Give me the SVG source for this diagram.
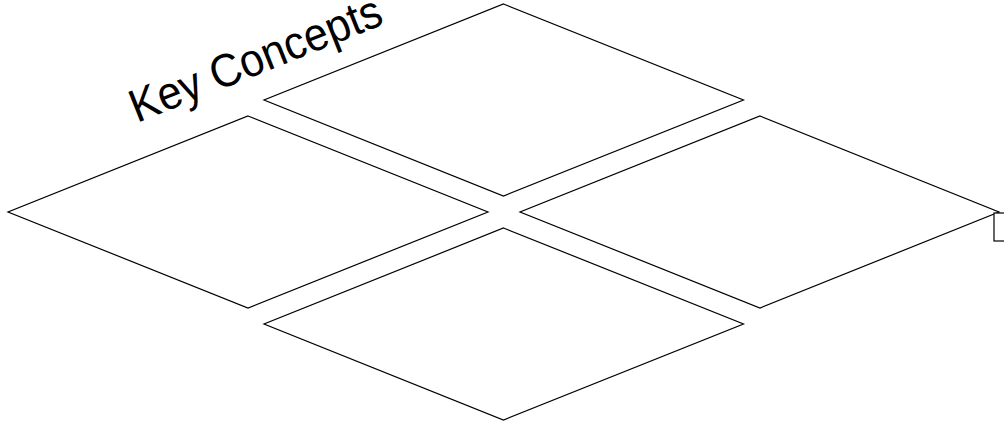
<svg xmlns="http://www.w3.org/2000/svg" width="1004" height="424" viewBox="0 0 1004 424">
  <style>
    .tile { fill: #ffffff; stroke: #000000; stroke-width: 1.2; stroke-linejoin: miter; }
    .title { font-family: "Liberation Sans", Arial, sans-serif; font-size: 43px; fill: #000000; }
  </style>
  <rect x="0" y="0" width="1004" height="424" fill="#ffffff"/>
  <text class="title" transform="translate(137 123) rotate(-21.8) scale(1 1.08)">Key Concepts</text>
  <g id="tile-top">
    <polygon class="tile" points="503.5,4 743.5,100 503.5,196 264,100"/>
  </g>
  <g id="tile-left">
    <polygon class="tile" points="248,116 488,212 248,308 8,212"/>
  </g>
  <g id="tile-right">
    <polygon class="tile" points="760,116 999,212 760,308 520,212"/>
  </g>
  <g id="tile-bottom">
    <polygon class="tile" points="503.5,228 743.5,324 503.5,420 264,324"/>
  </g>
  <g id="side-box">
    <rect class="tile" x="994" y="213" width="20" height="28"/>
  </g>
  <g id="connectors"></g>
</svg>
